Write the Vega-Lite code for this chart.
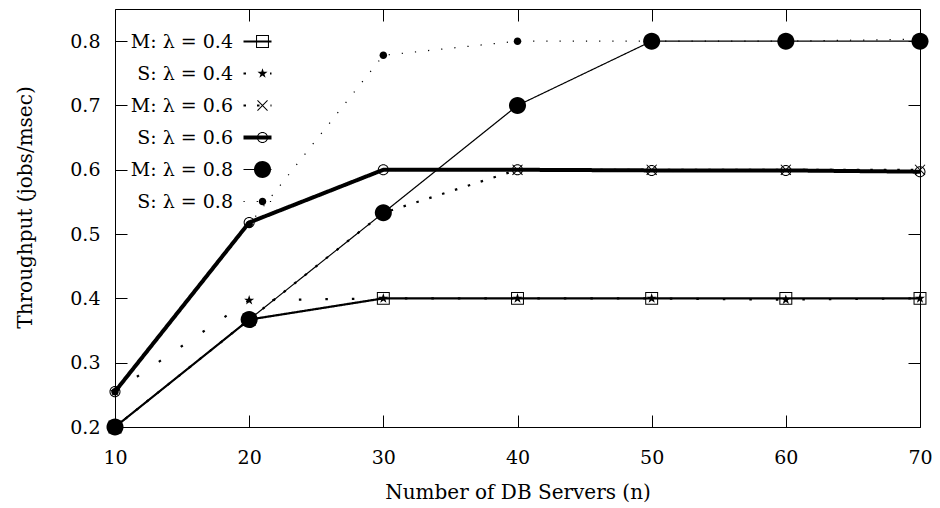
{
  "$schema": "https://vega.github.io/schema/vega-lite/v6.json",
  "width": 805,
  "height": 418,
  "autosize": {"type": "none"},
  "padding": {"left": 115, "top": 9, "right": 20, "bottom": 81},
  "background": "white",
  "data": {
    "values": [
      {"n": 10, "tp": 0.2, "curve": "M: λ = 0.4", "key": "M 0.4"},
      {"n": 20, "tp": 0.367, "curve": "M: λ = 0.4", "key": "M 0.4"},
      {"n": 30, "tp": 0.4, "curve": "M: λ = 0.4", "key": "M 0.4"},
      {"n": 40, "tp": 0.4, "curve": "M: λ = 0.4", "key": "M 0.4"},
      {"n": 50, "tp": 0.4, "curve": "M: λ = 0.4", "key": "M 0.4"},
      {"n": 60, "tp": 0.4, "curve": "M: λ = 0.4", "key": "M 0.4"},
      {"n": 70, "tp": 0.4, "curve": "M: λ = 0.4", "key": "M 0.4"},
      {"n": 10, "tp": 0.255, "curve": "S: λ = 0.4", "key": "S 0.4"},
      {"n": 20, "tp": 0.397, "curve": "S: λ = 0.4", "key": "S 0.4"},
      {"n": 30, "tp": 0.4, "curve": "S: λ = 0.4", "key": "S 0.4"},
      {"n": 40, "tp": 0.4, "curve": "S: λ = 0.4", "key": "S 0.4"},
      {"n": 50, "tp": 0.4, "curve": "S: λ = 0.4", "key": "S 0.4"},
      {"n": 60, "tp": 0.398, "curve": "S: λ = 0.4", "key": "S 0.4"},
      {"n": 70, "tp": 0.4, "curve": "S: λ = 0.4", "key": "S 0.4"},
      {"n": 10, "tp": 0.2, "curve": "M: λ = 0.6", "key": "M 0.6"},
      {"n": 20, "tp": 0.367, "curve": "M: λ = 0.6", "key": "M 0.6"},
      {"n": 30, "tp": 0.533, "curve": "M: λ = 0.6", "key": "M 0.6"},
      {"n": 40, "tp": 0.6, "curve": "M: λ = 0.6", "key": "M 0.6"},
      {"n": 50, "tp": 0.6, "curve": "M: λ = 0.6", "key": "M 0.6"},
      {"n": 60, "tp": 0.6, "curve": "M: λ = 0.6", "key": "M 0.6"},
      {"n": 70, "tp": 0.6, "curve": "M: λ = 0.6", "key": "M 0.6"},
      {"n": 10, "tp": 0.255, "curve": "S: λ = 0.6", "key": "S 0.6"},
      {"n": 20, "tp": 0.518, "curve": "S: λ = 0.6", "key": "S 0.6"},
      {"n": 30, "tp": 0.6, "curve": "S: λ = 0.6", "key": "S 0.6"},
      {"n": 40, "tp": 0.6, "curve": "S: λ = 0.6", "key": "S 0.6"},
      {"n": 50, "tp": 0.599, "curve": "S: λ = 0.6", "key": "S 0.6"},
      {"n": 60, "tp": 0.599, "curve": "S: λ = 0.6", "key": "S 0.6"},
      {"n": 70, "tp": 0.597, "curve": "S: λ = 0.6", "key": "S 0.6"},
      {"n": 10, "tp": 0.2, "curve": "M: λ = 0.8", "key": "M 0.8"},
      {"n": 20, "tp": 0.367, "curve": "M: λ = 0.8", "key": "M 0.8"},
      {"n": 30, "tp": 0.533, "curve": "M: λ = 0.8", "key": "M 0.8"},
      {"n": 40, "tp": 0.7, "curve": "M: λ = 0.8", "key": "M 0.8"},
      {"n": 50, "tp": 0.8, "curve": "M: λ = 0.8", "key": "M 0.8"},
      {"n": 60, "tp": 0.8, "curve": "M: λ = 0.8", "key": "M 0.8"},
      {"n": 70, "tp": 0.8, "curve": "M: λ = 0.8", "key": "M 0.8"},
      {"n": 10, "tp": 0.255, "curve": "S: λ = 0.8", "key": "S 0.8"},
      {"n": 20, "tp": 0.515, "curve": "S: λ = 0.8", "key": "S 0.8"},
      {"n": 30, "tp": 0.778, "curve": "S: λ = 0.8", "key": "S 0.8"},
      {"n": 40, "tp": 0.8, "curve": "S: λ = 0.8", "key": "S 0.8"},
      {"n": 50, "tp": 0.8, "curve": "S: λ = 0.8", "key": "S 0.8"},
      {"n": 60, "tp": 0.8, "curve": "S: λ = 0.8", "key": "S 0.8"},
      {"n": 70, "tp": 0.803, "curve": "S: λ = 0.8", "key": "S 0.8"}
    ]
  },
  "layer": [
    {
      "transform": [{"filter": {"field": "curve", "oneOf": ["M: λ = 0.4", "S: λ = 0.4", "M: λ = 0.6"]}}],
      "mark": {"type": "line", "color": "black", "strokeWidth": 2.2, "strokeCap": "butt"},
      "encoding": {
        "x": {"field": "n", "type": "quantitative", "scale": {"domain": [10, 70], "nice": false},
          "axis": {"orient": "bottom", "values": [10, 20, 30, 40, 50, 60, 70], "labelPadding": 33, "labelFlush": false,
            "title": "Number of DB Servers (n)", "titleFontSize": 20, "titleX": 402.5, "titleY": 65, "titleBaseline": "middle", "titleAlign": "center", "titleColor": "black"}},
        "y": {"field": "tp", "type": "quantitative", "scale": {"domain": [0.2, 0.85], "nice": false, "zero": false},
          "axis": {"orient": "left", "values": [0.2, 0.3, 0.4, 0.5, 0.6, 0.7, 0.8], "format": ".1f", "labelPadding": 27, "labelFlush": false,
            "title": "Throughput (jobs/msec)", "titleFontSize": 20, "titleX": -90, "titleY": 198, "titleAngle": -90, "titleBaseline": "middle", "titleAlign": "center", "titleColor": "black"}},
        "strokeDash": {
          "field": "curve", "type": "nominal",
          "scale": {
            "domain": ["M: λ = 0.4", "S: λ = 0.4", "M: λ = 0.6", "S: λ = 0.6", "M: λ = 0.8", "S: λ = 0.8"],
            "range": [[1, 0], [2.5, 24], [2.5, 11], [1, 0], [1, 0], [1.2, 12]]
          },
          "legend": {
            "title": null, "orient": "none", "legendX": 133, "legendY": 23,
            "symbolType": "stroke", "symbolSize": 784, "symbolStrokeColor": "black",
            "labelAlign": "right", "labelOffset": -34, "labelBaseline": "middle",
            "encode": {"symbols": {"update": {
              "stroke": {"value": "black"},
              "strokeWidth": {"signal": "datum.value === 'S: λ = 0.6' ? 4 : (datum.value === 'M: λ = 0.8' || datum.value === 'S: λ = 0.8') ? 1.2 : 2.2"}
            }}}
          }
        }
      }
    },
    {
      "transform": [{"filter": {"field": "curve", "equal": "S: λ = 0.6"}}],
      "mark": {"type": "line", "color": "black", "strokeWidth": 4, "strokeCap": "butt"},
      "encoding": {
        "x": {"field": "n", "type": "quantitative", "axis": null},
        "y": {"field": "tp", "type": "quantitative", "axis": null},
        "strokeDash": {"field": "curve", "type": "nominal"}
      }
    },
    {
      "transform": [{"filter": {"field": "curve", "oneOf": ["M: λ = 0.8", "S: λ = 0.8"]}}],
      "mark": {"type": "line", "color": "black", "strokeWidth": 1.2, "strokeCap": "butt"},
      "encoding": {
        "x": {"field": "n", "type": "quantitative", "axis": null},
        "y": {"field": "tp", "type": "quantitative", "axis": null},
        "strokeDash": {"field": "curve", "type": "nominal"}
      }
    },
    {
      "mark": {"type": "point", "filled": true, "color": "black", "size": 290, "strokeWidth": 0, "opacity": 1},
      "encoding": {
        "x": {"field": "n", "type": "quantitative",
          "axis": {"orient": "top", "values": [10, 20, 30, 40, 50, 60, 70], "labels": false, "title": null}},
        "y": {"field": "tp", "type": "quantitative",
          "axis": {"orient": "right", "values": [0.2, 0.3, 0.4, 0.5, 0.6, 0.7, 0.8], "labels": false, "title": null}},
        "shape": {
          "field": "key", "type": "nominal",
          "scale": {
            "domain": ["M 0.4", "S 0.4", "M 0.6", "S 0.6", "M 0.8", "S 0.8"],
            "range": [
              "M-0.76,-0.76H0.76V0.76H-0.76ZM-0.64,-0.64V0.64H0.64V-0.64Z",
              "M0,-0.62L0.141,-0.194L0.59,-0.192L0.228,0.074L0.364,0.502L0,0.24L-0.364,0.502L-0.228,0.074L-0.59,-0.192L-0.141,-0.194Z",
              "M-0.548,-0.632L0.632,0.548L0.548,0.632L-0.632,-0.548ZM-0.632,0.548L0.548,-0.632L0.632,-0.548L-0.548,0.632Z",
              "M-0.65,0A0.65,0.65 0 1,0 0.65,0A0.65,0.65 0 1,0 -0.65,0ZM-0.53,0A0.53,0.53 0 1,1 0.53,0A0.53,0.53 0 1,1 -0.53,0Z",
              "M-1,0A1,1 0 1,0 1,0A1,1 0 1,0 -1,0Z",
              "M-0.44,0A0.44,0.44 0 1,0 0.44,0A0.44,0.44 0 1,0 -0.44,0Z"
            ]
          },
          "legend": {
            "title": null, "orient": "none", "legendX": 138, "legendY": 23,
            "symbolSize": 290, "symbolFillColor": "black", "symbolStrokeWidth": 0,
            "labelOpacity": 0
          }
        }
      }
    }
  ],
  "resolve": {"axis": {"x": "independent", "y": "independent"}},
  "config": {
    "font": "DejaVu Serif",
    "view": {"stroke": "black", "strokeWidth": 1},
    "axis": {
      "labelFont": "DejaVu Serif", "labelFontSize": 19, "labelColor": "black",
      "titleFont": "DejaVu Serif", "titleFontSize": 19, "titleFontWeight": "normal", "titleColor": "black",
      "tickColor": "black", "tickSize": -12, "tickWidth": 1, "domain": false, "grid": false
    },
    "legend": {
      "labelFont": "DejaVu Serif", "labelFontSize": 19, "labelColor": "black",
      "padding": 0, "rowPadding": 12
    }
  }
}
